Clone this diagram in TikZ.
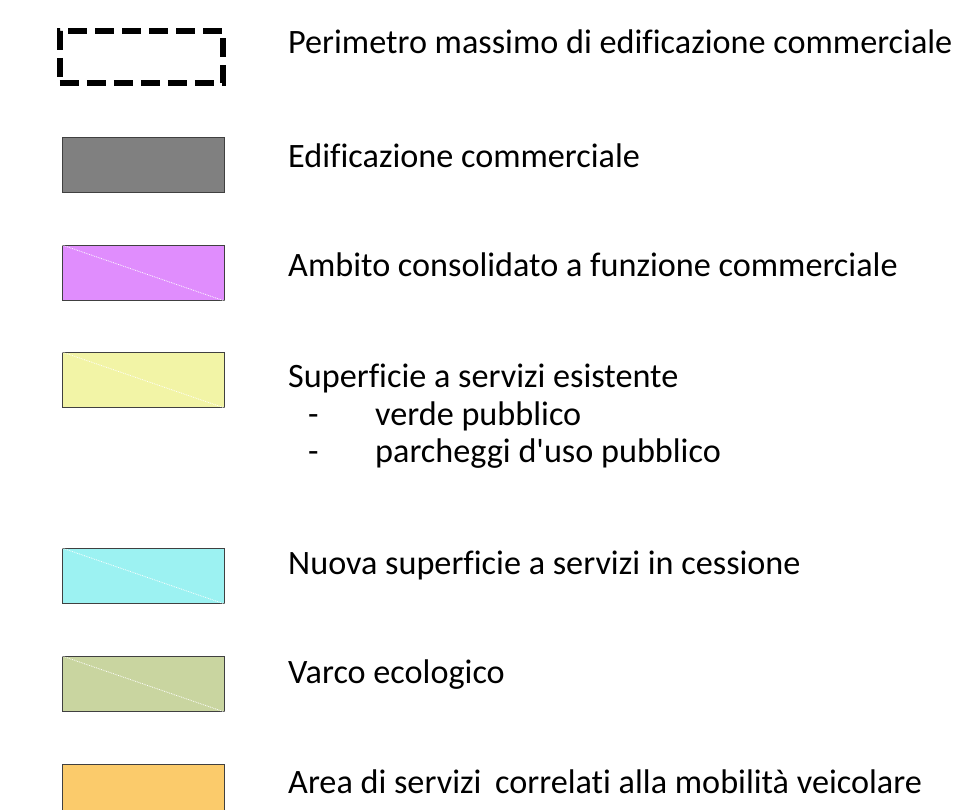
\documentclass[tikz,border=0pt]{standalone}
\usepackage{fontspec}
\setmainfont{Carlito}[Ligatures={TeXOff,NoCommon}]
\definecolor{cgrey}{HTML}{808080}
\definecolor{cmag}{HTML}{E08DFD}
\definecolor{cyel}{HTML}{F2F4A6}
\definecolor{ccyan}{HTML}{9CF2F2}
\definecolor{cgreen}{HTML}{C9D5A0}
\definecolor{corange}{HTML}{FBCB6B}
\begin{document}
\begin{tikzpicture}[x=1pt,y=-1pt,
  swatch/.style={draw=black!75, line width=1.2pt, minimum width=162pt, minimum height=55pt, anchor=north west, inner sep=0pt},
  lbl/.style={anchor=base west, font=\fontsize{34.2}{40}\selectfont, inner sep=0pt},
  diag/.style={white, densely dotted, line width=0.8pt}]
\useasboundingbox[fill=white] (0,0) rectangle (964,810);
\node[draw=black, line width=5.8pt, dash pattern=on 19pt off 8pt, minimum width=163pt, minimum height=52pt, anchor=north west, inner sep=0pt] (s1) at (57,28) {};
\node[swatch, fill=cgrey] (s2) at (62,137) {};
\node[swatch, fill=cmag] (s3) at (62,245) {};
\node[swatch, fill=cyel] (s4) at (62,352) {};
\node[swatch, fill=ccyan] (s5) at (62,548) {};
\node[swatch, fill=cgreen] (s6) at (62,656) {};
\node[swatch, fill=corange, minimum height=60pt] (s7) at (62,764) {};
\foreach \s in {s3,s4,s5,s6} \draw[diag] (\s.north west) -- (\s.south east);
\node[lbl] (t1) at (288,54) {Perimetro massimo di edificazione commerciale};
\node[lbl] (t2) at (288,168) {Edificazione commerciale};
\node[lbl] (t3) at (288,277) {Ambito consolidato a funzione commerciale};
\node[lbl] (t4) at (288,387) {Superficie a servizi esistente};
\node[lbl] (d1) at (308,425) {-};
\node[lbl] (t4a) at (375,425) {verde pubblico};
\node[lbl] (d2) at (308,462) {-};
\node[lbl] (t4b) at (375,462) {parcheggi d'uso pubblico};
\node[lbl] (t5) at (288,574) {Nuova superficie a servizi in cessione};
\node[lbl] (t6) at (288,683) {Varco ecologico};
\node[lbl] (t7) at (288,793) {Area di servizi~\hspace{6pt}correlati alla mobilità veicolare};
\end{tikzpicture}
\end{document}
